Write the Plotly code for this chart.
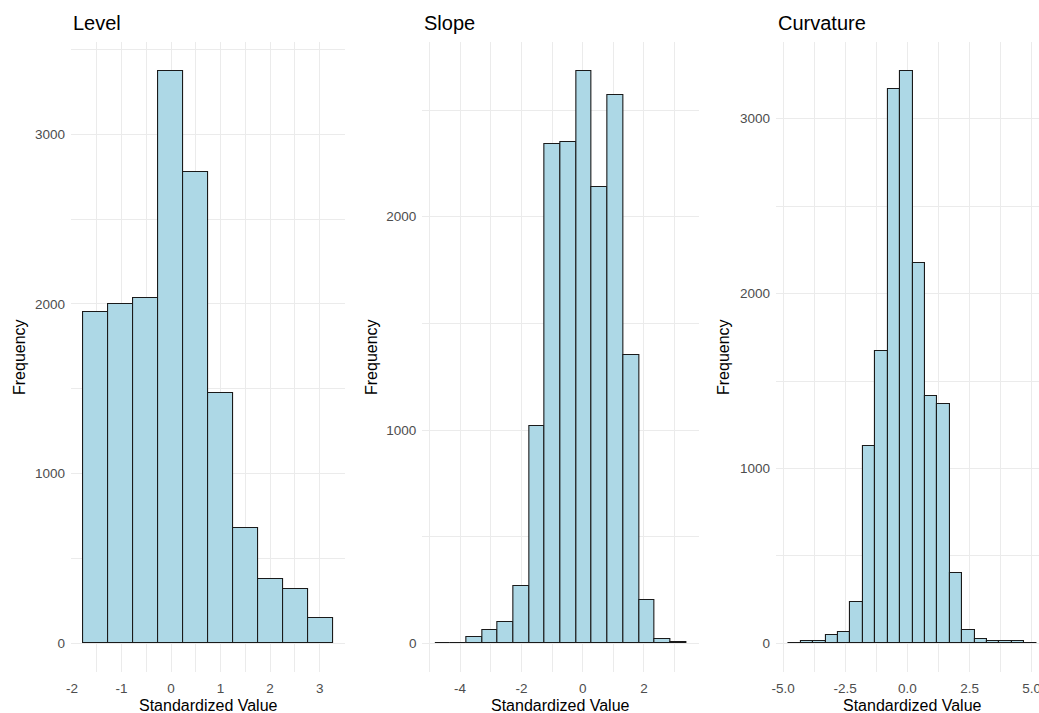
import plotly.graph_objects as go

# ---------------- data ----------------
level_bin_start = -1.766
level_bin_width = 0.5034
level_counts = [1952, 2002, 2036, 3375, 2778, 1478, 678, 380, 323, 147]

slope_bin_start = -4.82
slope_bin_width = 0.512
slope_counts = [1, 4, 31, 65, 102, 268, 1021, 2339, 2352, 2685, 2139, 2569, 1352, 204, 22, 5]

curv_bin_start = -4.783
curv_bin_width = 0.4992
curv_counts = [1, 14, 11, 45, 63, 237, 1130, 1671, 3170, 3275, 2173, 1412, 1367, 400, 77, 27, 11, 11, 11, 1]

level_xticks = [-2, -1, 0, 1, 2, 3]
level_xlabels = ["-2", "-1", "0", "1", "2", "3"]
slope_xticks = [-4, -2, 0, 2]
slope_xlabels = ["-4", "-2", "0", "2"]
curv_xticks = [-5.0, -2.5, 0.0, 2.5, 5.0]
curv_xlabels = ["-5.0", "-2.5", "0.0", "2.5", "5.0"]
level_yticks = [0, 1000, 2000, 3000]
slope_yticks = [0, 1000, 2000]
curv_yticks = [0, 1000, 2000, 3000]

titles = ["Level", "Slope", "Curvature"]
x_title = "Standardized Value"
y_title = "Frequency"

# ---------------- layout constants ----------------
W, H = 1039, 713
TOP, BOTTOM = 42, 672
FONT = "Arial, Liberation Sans, sans-serif"
FILL = "#ADD8E6"
GRID = "#EBEBEB"

panels = [
    dict(start=level_bin_start, width=level_bin_width, counts=level_counts,
         xt=level_xticks, xl=level_xlabels, yt=level_yticks,
         px=(71.1, 345.4), xminor=0.5, crop=1.0, ytitle_x=19),
    dict(start=slope_bin_start, width=slope_bin_width, counts=slope_counts,
         xt=slope_xticks, xl=slope_xlabels, yt=slope_yticks,
         px=(422.4, 698.6), xminor=1.0, crop=1.0, ytitle_x=371),
    dict(start=curv_bin_start, width=curv_bin_width, counts=curv_counts,
         xt=curv_xticks, xl=curv_xlabels, yt=curv_yticks,
         px=(776.0, 1039.0), xminor=1.25, crop=263.0 / 273.1, ytitle_x=723),
]

fig = go.Figure()
annotations = []
plot_h = BOTTOM - TOP

for i, p in enumerate(panels):
    n = len(p["counts"])
    centers = [p["start"] + p["width"] * (k + 0.5) for k in range(n)]
    widths = [p["width"]] * n
    xa = "x" if i == 0 else f"x{i+1}"
    ya = "y" if i == 0 else f"y{i+1}"
    fig.add_trace(go.Bar(
        x=centers, y=p["counts"], width=widths,
        marker=dict(color=FILL, line=dict(color="#1a1a1a", width=1.1)),
        xaxis=xa, yaxis=ya, showlegend=False, hoverinfo="x+y",
    ))
    # ggplot-style 5% expansion
    lo = p["start"]
    hi = p["start"] + p["width"] * n
    span = hi - lo
    xr0 = lo - 0.05 * span
    xr1_full = hi + 0.05 * span
    xr1 = xr0 + (xr1_full - xr0) * p["crop"]
    ymax = max(p["counts"])
    yr = [-0.05 * ymax, ymax * 1.05]

    dom = [p["px"][0] / W, min(p["px"][1] / W, 1.0)]
    axis_font = dict(family=FONT, size=13.5, color="#4D4D4D")
    xkey = "xaxis" if i == 0 else f"xaxis{i+1}"
    ykey = "yaxis" if i == 0 else f"yaxis{i+1}"
    fig.update_layout({
        xkey: dict(
            domain=dom, range=[xr0, xr1], anchor=ya, automargin=False,
            tickmode="array", tickvals=p["xt"], ticktext=p["xl"],
            showgrid=True, gridcolor=GRID, gridwidth=1.2,
            zeroline=False, showline=False, ticks="",
            tickfont=axis_font, ticklabelstandoff=6, ticklabeloverflow="allow",
            minor=dict(tickmode="linear", tick0=0, dtick=p["xminor"],
                       showgrid=True, gridcolor=GRID, gridwidth=0.7),
        ),
        ykey: dict(
            domain=[0, 1], range=yr, anchor=xa, automargin=False,
            tickmode="array", tickvals=p["yt"], ticktext=[str(v) for v in p["yt"]],
            showgrid=True, gridcolor=GRID, gridwidth=1.2,
            zeroline=False, showline=False, ticks="",
            tickfont=axis_font, ticklabelstandoff=5,
            minor=dict(tickmode="linear", tick0=0, dtick=500,
                       showgrid=True, gridcolor=GRID, gridwidth=0.7),
        ),
    })
    # panel title
    annotations.append(dict(
        text=titles[i], xref=f"{xa} domain", x=0, xanchor="left",
        yref="paper", y=(BOTTOM - 23) / plot_h, yanchor="middle",
        showarrow=False, font=dict(family=FONT, size=20, color="#000000"),
    ))
    # x axis title
    full_right = p["px"][0] + (p["px"][1] - p["px"][0]) / p["crop"]
    annotations.append(dict(
        text=x_title, xref="paper", x=((p["px"][0] + full_right) / 2) / W, xanchor="center",
        yref="paper", y=(BOTTOM - 705) / plot_h, yanchor="middle",
        showarrow=False, font=dict(family=FONT, size=16, color="#000000"),
    ))
    # y axis title
    annotations.append(dict(
        text=y_title, xref="paper", x=p["ytitle_x"] / W, xanchor="center",
        yref="paper", y=0.5, yanchor="middle", textangle=-90,
        showarrow=False, font=dict(family=FONT, size=16, color="#000000"),
    ))

fig.update_layout(
    width=W, height=H,
    margin=dict(l=0, r=0, t=TOP, b=H - BOTTOM),
    paper_bgcolor="white", plot_bgcolor="white",
    annotations=annotations,
    font=dict(family=FONT),
    bargap=0,
)

fig.write_html("out.html")
